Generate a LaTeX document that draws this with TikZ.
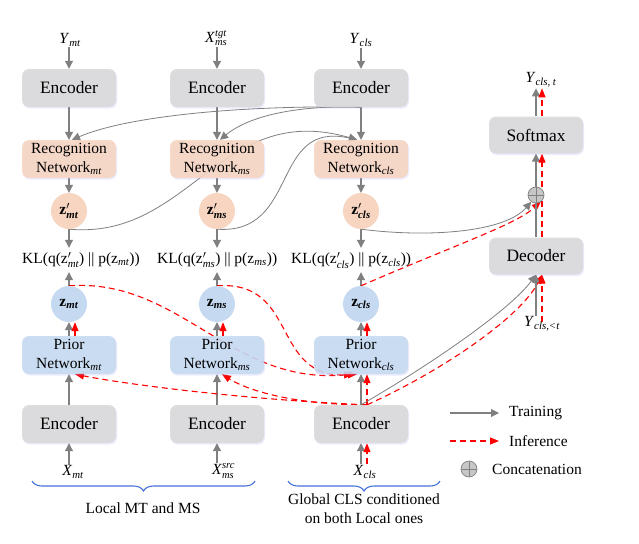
\documentclass[tikz,border=0pt]{standalone}
\usepackage{fontspec}
\setmainfont{Liberation Serif}
\usepackage{amsmath}
\usetikzlibrary{arrows.meta,shadows,decorations.pathreplacing,calc}
\definecolor{encgray}{RGB}{217,217,217}
\definecolor{recpeach}{RGB}{247,213,192}
\definecolor{priblue}{RGB}{197,218,240}
\definecolor{arrgray}{RGB}{128,128,128}
\definecolor{bracecol}{RGB}{70,114,220}
\newcommand\mysupsub[2]{\rlap{\raisebox{6pt}{\fontsize{10.5}{10.5}\selectfont\textit{#1}}}\raisebox{-3.5pt}{\fontsize{10.5}{10.5}\selectfont\textit{#2}}}
\pgfdeclarelayer{bg}
\pgfsetlayers{bg,main}
\begin{document}
\begin{tikzpicture}[x=1pt,y=-1pt,
  box/.style={rounded corners=7pt, minimum width=94pt, minimum height=38pt, inner sep=0pt,
    fill opacity=0.88, text opacity=1,
    drop shadow={shadow xshift=1pt,shadow yshift=-1.5pt,fill=blue!40,opacity=0.18}},
  encbox/.style={box, fill=encgray, font=\fontsize{17.4}{20}\selectfont},
  recbox/.style={box, fill=recpeach, align=center, font=\fontsize{15.5}{19}\selectfont},
  pribox/.style={box, fill=priblue, align=center, font=\fontsize{15.5}{19}\selectfont},
  zpc/.style={circle, fill=recpeach, minimum size=36pt, inner sep=0pt, font=\fontsize{15.5}{18}\selectfont},
  zc/.style={circle, fill=priblue, minimum size=36pt, inner sep=0pt, font=\fontsize{15.5}{18}\selectfont},
  lbl/.style={font=\fontsize{15.5}{18}\selectfont, inner sep=1pt},
  kl/.style={font=\fontsize{15.5}{18}\selectfont, anchor=west, text height=11pt, text depth=4pt, inner ysep=4.5pt, inner xsep=0pt},
  ga/.style={draw=arrgray, line width=1.1pt, -{Triangle[length=8pt,width=8pt]}},
  gc/.style={draw=arrgray, line width=0.8pt, -{Triangle[length=8pt,width=8pt]}},
  ra/.style={draw=red, line width=1.1pt, dash pattern=on 6pt off 4pt, -{Triangle[length=9pt,width=7pt]}},
  oplus/.style={circle, draw=arrgray, fill=gray!45, minimum size=16pt, inner sep=0pt, line width=0.7pt},
  bracestyle/.style={draw=bracecol, line width=1.1pt, decorate, decoration={brace,mirror,amplitude=10pt}}
]
\useasboundingbox (0,0) rectangle (639,543);

% top labels
\node[lbl] (ly1) at (70,40) {\textit{Y}$_{\textit{mt}}$};
\node[lbl] (ly2) at (216,38) {\textit{X}\mysupsub{tgt}{ms}};
\node[lbl] (ly3) at (361,40) {\textit{Y}$_{\textit{cls}}$};

% encoders top
\node[encbox] (e1) at (69,88) {Encoder};
\node[encbox] (e2) at (217,88) {Encoder};
\node[encbox] (e3) at (361,88) {Encoder};

% recognition networks
\node[recbox] (r1) at (69,159) {Recognition\\Network$_{\textit{mt}}$};
\node[recbox] (r2) at (217,159) {Recognition\\Network$_{\textit{ms}}$};
\node[recbox] (r3) at (361,159) {Recognition\\Network$_{\textit{cls}}$};

% z'
\node[zpc] (zp1) at (69,211) {$\mathbf{z}'_{\textbf{\textit{mt}}}$};
\node[zpc] (zp2) at (217,211) {$\mathbf{z}'_{\textbf{\textit{ms}}}$};
\node[zpc] (zp3) at (361,211) {$\mathbf{z}'_{\textbf{\textit{cls}}}$};

% KL
\node[kl] (kl1) at (22,260) {KL(q(z$'_{\textit{mt}}$) || p(z$_{\textit{mt}}$))};
\node[kl] (kl2) at (157,260) {KL(q(z$'_{\textit{ms}}$) || p(z$_{\textit{ms}}$))};
\node[kl] (kl3) at (291,260) {KL(q(z$'_{\textit{cls}}$) || p(z$_{\textit{cls}}$))};

% z
\node[zc] (zz1) at (69,304) {$\mathbf{z}_{\textbf{\textit{mt}}}$};
\node[zc] (zz2) at (217,304) {$\mathbf{z}_{\textbf{\textit{ms}}}$};
\node[zc] (zz3) at (361,304) {$\mathbf{z}_{\textbf{\textit{cls}}}$};

% prior networks
\node[pribox] (p1) at (69,355) {Prior\\Network$_{\textit{mt}}$};
\node[pribox] (p2) at (217,355) {Prior\\Network$_{\textit{ms}}$};
\node[pribox] (p3) at (361,355) {Prior\\Network$_{\textit{cls}}$};

% encoders bottom
\node[encbox] (b1) at (69,424) {Encoder};
\node[encbox] (b2) at (217,424) {Encoder};
\node[encbox] (b3) at (361,424) {Encoder};

% bottom labels
\node[lbl] (lx1) at (73,472) {\textit{X}$_{\textit{mt}}$};
\node[lbl] (lx2) at (223,471) {\textit{X}\mysupsub{src}{ms}};
\node[lbl] (lx3) at (365,472) {\textit{X}$_{\textit{cls}}$};

% right column
\node[lbl] (lyt) at (541,80) {\textit{Y}$_{\textit{cls, t}}$};
\node[encbox, minimum height=37pt] (soft) at (536,135) {Softmax};
\node[oplus] (op) at (536,195) {};
\draw[arrgray, line width=0.7pt] (op.north) -- (op.south) (op.west) -- (op.east);
\node[encbox, minimum height=37pt] (dec) at (536,256) {Decoder};
\node[lbl] (lylt) at (542,324) {\textit{Y}$_{\textit{cls,<t}}$};

% legend
\coordinate (lt1) at (450,413);
\node[lbl, anchor=west, inner sep=0pt] (lgT) at (509,413) {Training};
\coordinate (li1) at (450,441);
\node[lbl, anchor=west, inner sep=0pt] (lgI) at (509,441) {Inference};
\node[oplus] (lop) at (469,469) {};
\draw[arrgray, line width=0.7pt] (lop.north) -- (lop.south) (lop.west) -- (lop.east);
\node[lbl, anchor=west, inner sep=0pt] (lgC) at (492,469) {Concatenation};

% braces and captions
\coordinate (bl1) at (32,481);
\coordinate (bl2) at (255,481);
\coordinate (br1) at (288,481);
\coordinate (br2) at (440,481);
\draw[bracestyle] (bl1) -- (bl2);
\draw[bracestyle] (br1) -- (br2);
\node[lbl] (capL) at (143,508) {Local MT and MS};
\node[lbl, align=center, font=\fontsize{15.5}{19}\selectfont] (capR) at (364,509) {Global CLS conditioned\\on both Local ones};

\begin{pgfonlayer}{bg}
\fill[white] (0,0) rectangle (639,543);
% legend arrows
\draw[ga] (lt1) -- ([xshift=-10pt]lgT.west);
\draw[ra] (li1) -- ([xshift=-10pt]lgI.west);

% top label arrows
\draw[ga] (ly1.south -| e1.north) -- (e1.north);
\draw[ga] (ly2.south -| e2.north) -- (e2.north);
\draw[ga] (ly3.south -| e3.north) -- (e3.north);

% vertical columns
\foreach \i in {1,2,3}{
  \draw[ga] (e\i.south) -- (r\i.north);
  \draw[ga] (r\i.south) -- (zp\i.north);
  \draw[ga] (zp\i.south) -- (zp\i.south |- kl\i.north);
  \draw[ga] (zz\i.north) -- (zz\i.north |- kl\i.south);
  \draw[ga] (p\i.north) -- (zz\i.south);
  \draw[ra] ([xshift=6pt]p\i.north) -- ([xshift=6pt]zz\i.south);
  \draw[ga] (b\i.north) -- (p\i.south);
}
\draw[ga] (lx1.north -| b1.south) -- (b1.south);
\draw[ga] (lx2.north -| b2.south) -- (b2.south);
\draw[ga] (lx3.north -| b3.south) -- (b3.south);
\draw[ra] ([xshift=6pt]b3.north) -- ([xshift=6pt]p3.south);
\draw[ra] ($(lx3.north -| b3.south)+(6,0)$) -- ([xshift=6pt]b3.south);

% gray curves to recognition networks
\draw[gc] (e3.south) .. controls (250,105) and (130,115) .. ([xshift=3pt]r1.north);
\draw[gc] (e3.south) .. controls (300,105) and (250,115) .. ([xshift=3pt]r2.north);
\draw[gc] (zp1.south) .. controls (190,240) and (220,100) .. ([xshift=-4pt]r3.north);
\draw[gc] (zp2.south) .. controls (300,235) and (270,120) .. ([xshift=-4pt]r3.north);
\draw[gc] (zp3.south) .. controls (430,238) and (505,232) .. (op.-125);

% red dashed curves
\draw[ra] (zz3.north) .. controls (450,247) and (515,225) .. (op.-55);
\draw[ra] (zz1.north) .. controls (180,278) and (230,385) .. ([xshift=-8pt]p3.south);
\draw[ra] (zz2.north) .. controls (300,280) and (270,380) .. ([xshift=-4pt]p3.south);
\draw[ra] ([xshift=6pt]b3.north) .. controls (250,400) and (130,385) .. ([xshift=6pt]p1.south);
\draw[ra] ([xshift=6pt]b3.north) .. controls (300,405) and (250,392) .. ([xshift=5pt]p2.south);

% encoder cls to decoder
\draw[gc] (b3.north) .. controls (430,365) and (510,310) .. (dec.south);
\draw[ra] ([xshift=6pt]b3.north) .. controls (440,372) and (520,318) .. ([xshift=6pt]dec.south);

% right column verticals
\draw[ga] (dec.north) -- (soft.south);
\draw[ra] ([xshift=6pt]dec.north) -- ([xshift=6pt]soft.south);
\draw[ga] (soft.north) -- (soft.north |- lyt.south);
\draw[ra] ([xshift=6pt]soft.north) -- ($(soft.north |- lyt.south)+(6,0)$);
\draw[ga] (dec.south |- lylt.north) -- (dec.south);
\draw[ra] ($(dec.south |- lylt.north)+(6,6)$) -- ([xshift=6pt]dec.south);
\end{pgfonlayer}
\end{tikzpicture}
\end{document}
